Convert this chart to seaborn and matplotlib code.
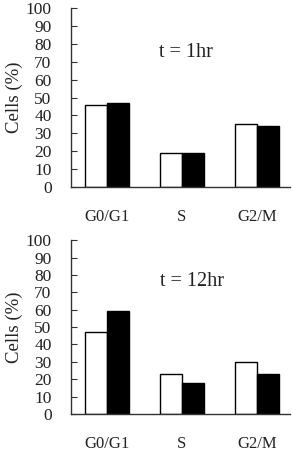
import matplotlib
matplotlib.use("Agg")
import matplotlib.pyplot as plt
import seaborn as sns
import pandas as pd

phases = ["G0/G1", "S", "G2/M"]
groups = ["control", "treated"]
t1_control = [46, 19, 35]
t1_treated = [47, 19, 34]
t12_control = [47, 23, 30]
t12_treated = [59, 18, 23]
yticks = [0, 10, 20, 30, 40, 50, 60, 70, 80, 90, 100]
titles = ["t = 1hr", "t = 12hr"]

sns.set_theme(style="white")
plt.rcParams["font.family"] = ["Liberation Serif", "DejaVu Serif"]

fig = plt.figure(figsize=(2.92, 4.54), dpi=100)
ax1 = fig.add_axes([0.243, 0.588, 0.75, 0.394])
ax2 = fig.add_axes([0.243, 0.088, 0.75, 0.383])

panels = [(ax1, t1_control, t1_treated, titles[0], (1.05, 75)),
          (ax2, t12_control, t12_treated, titles[1], (1.13, 76))]

for ax, ctrl, trt, title, pos in panels:
    df = pd.DataFrame({
        "phase": phases * 2,
        "group": [groups[0]] * 3 + [groups[1]] * 3,
        "value": ctrl + trt,
    })
    sns.barplot(data=df, x="phase", y="value", hue="group", ax=ax,
                palette=["white", "black"], edgecolor="black", linewidth=1.0,
                width=0.58, legend=False)
    ax.set_xlim(-0.48, 2.44)
    ax.set_ylim(0, 100)
    ax.set_yticks(yticks)
    ax.set_yticklabels([str(v) for v in yticks], fontsize=12.5, color="#222222")
    ax.tick_params(axis="y", direction="in", length=4, width=0.8, pad=14,
                   left=True, color="#333333")
    ax.tick_params(axis="x", length=0, pad=16, labelsize=12, labelcolor="#222222")
    for s in ["top", "right"]:
        ax.spines[s].set_visible(False)
    for s in ["left", "bottom"]:
        ax.spines[s].set_color("#333333")
        ax.spines[s].set_linewidth(1.0)
    ax.set_xlabel("")
    ax.set_ylabel("Cells (%)", fontsize=13.5, labelpad=2, color="#222222")
    ax.text(pos[0], pos[1], title, fontsize=14.5, ha="center", va="center",
            color="#222222")

fig.savefig("out.png", dpi=100)
